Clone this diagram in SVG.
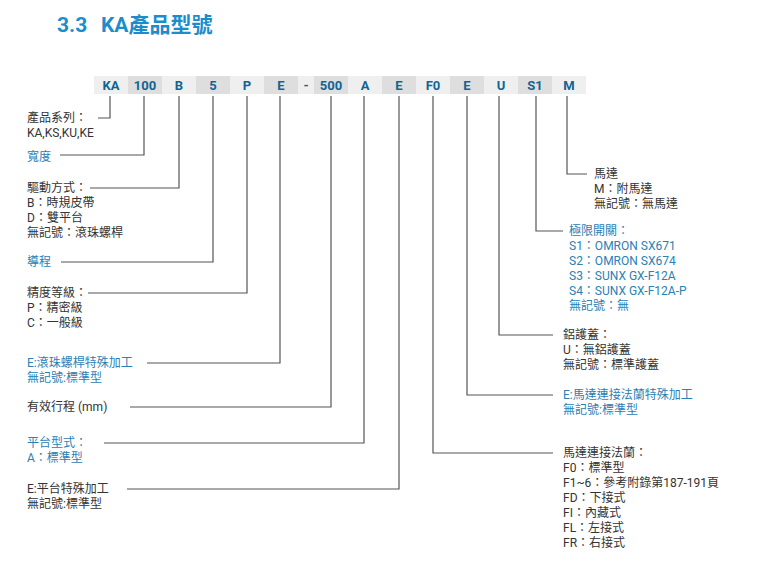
<svg xmlns="http://www.w3.org/2000/svg" width="760" height="565" viewBox="0 0 760 565">
<style>
.t{font-family:Roboto,"Noto Sans CJK TC","Noto Sans",sans-serif;font-size:12px;fill:#333}
.b{fill:#2b80b4}
.code{font-family:Roboto,"Liberation Sans",sans-serif;font-size:13px;font-weight:bold;fill:#0f6594;text-anchor:middle}
.lt{fill:#efefef}
.dk{fill:#dedede}
.ln{fill:none;stroke:#555;stroke-width:1.2}
</style>
<rect width="760" height="565" fill="#fff"/>
<text x="57" y="32" font-family="Roboto,'Noto Sans CJK TC',sans-serif" font-size="21" font-weight="bold" fill="#1b8ccc">3.3<tspan x="101">KA產品型號</tspan></text>

<g id="code">
<rect class="lt" x="94" y="76" width="34" height="18"/>
<rect class="dk" x="128" y="76" width="34" height="18"/>
<rect class="lt" x="162" y="76" width="34" height="18"/>
<rect class="dk" x="196" y="76" width="34" height="18"/>
<rect class="lt" x="230" y="76" width="34" height="18"/>
<rect class="dk" x="264" y="76" width="34" height="18"/>
<rect class="lt" x="298" y="76" width="16" height="18"/>
<rect class="dk" x="314" y="76" width="34" height="18"/>
<rect class="lt" x="348" y="76" width="34" height="18"/>
<rect class="dk" x="382" y="76" width="34" height="18"/>
<rect class="lt" x="416" y="76" width="34" height="18"/>
<rect class="dk" x="450" y="76" width="34" height="18"/>
<rect class="lt" x="484" y="76" width="34" height="18"/>
<rect class="dk" x="518" y="76" width="34" height="18"/>
<rect class="lt" x="552" y="76" width="34" height="18"/>
<text class="code" x="111" y="90">KA</text>
<text class="code" x="145" y="90">100</text>
<text class="code" x="179" y="90">B</text>
<text class="code" x="213" y="90">5</text>
<text class="code" x="247" y="90">P</text>
<text class="code" x="281" y="90">E</text>
<text class="code" x="306" y="90">-</text>
<text class="code" x="331" y="90">500</text>
<text class="code" x="365" y="90">A</text>
<text class="code" x="399" y="90">E</text>
<text class="code" x="433" y="90">F0</text>
<text class="code" x="467" y="90">E</text>
<text class="code" x="501" y="90">U</text>
<text class="code" x="535" y="90">S1</text>
<text class="code" x="569" y="90">M</text>
</g>

<g id="connectors">
<path class="ln" d="M110,96V118H98"/>
<path class="ln" d="M144,96V155H60"/>
<path class="ln" d="M179,96V188H90"/>
<path class="ln" d="M213,96V262H61"/>
<path class="ln" d="M247,96V293H88"/>
<path class="ln" d="M280,96V363H147"/>
<path class="ln" d="M331,96V407H130"/>
<path class="ln" d="M364,96V443H104"/>
<path class="ln" d="M399,96V489H127"/>
<path class="ln" d="M433,96V453H553"/>
<path class="ln" d="M467,96V395H553"/>
<path class="ln" d="M499,96V335H553"/>
<path class="ln" d="M536,96V231H563"/>
<path class="ln" d="M567,96V174H587"/>
</g>

<g id="series"><text class="t" x="27" y="122">產品系列：<tspan x="27" dy="15">KA,KS,KU,KE</tspan></text></g>
<g id="width"><text class="t b" x="27" y="161">寬度</text></g>
<g id="drive"><text class="t" x="27" y="192">驅動方式：<tspan x="27" dy="15">B：時規皮帶</tspan><tspan x="27" dy="15">D：雙平台</tspan><tspan x="27" dy="15">無記號：滾珠螺桿</tspan></text></g>
<g id="lead"><text class="t b" x="27" y="266">導程</text></g>
<g id="precision"><text class="t" x="27" y="297">精度等級：<tspan x="27" dy="15">P：精密級</tspan><tspan x="27" dy="15">C：一般級</tspan></text></g>
<g id="screw-special"><text class="t b" x="27" y="367">E:滾珠螺桿特殊加工<tspan x="27" dy="15">無記號:標準型</tspan></text></g>
<g id="stroke"><text class="t" x="27" y="411">有效行程 (mm)</text></g>
<g id="table-type"><text class="t b" x="27" y="447">平台型式：<tspan x="27" dy="15">A：標準型</tspan></text></g>
<g id="table-special"><text class="t" x="27" y="493">E:平台特殊加工<tspan x="27" dy="15">無記號:標準型</tspan></text></g>

<g id="motor"><text class="t" x="594" y="178">馬達<tspan x="594" dy="15">M：附馬達</tspan><tspan x="594" dy="15">無記號：無馬達</tspan></text></g>
<g id="limit"><text class="t b" x="569" y="235">極限開關：<tspan x="569" dy="15">S1：OMRON SX671</tspan><tspan x="569" dy="15">S2：OMRON SX674</tspan><tspan x="569" dy="15">S3：SUNX GX-F12A</tspan><tspan x="569" dy="15">S4：SUNX GX-F12A-P</tspan><tspan x="569" dy="15">無記號：無</tspan></text></g>
<g id="cover"><text class="t" x="563" y="339">鋁護蓋：<tspan x="563" dy="15">U：無鋁護蓋</tspan><tspan x="563" dy="15">無記號：標準護蓋</tspan></text></g>
<g id="flange-special"><text class="t b" x="563" y="399">E:馬達連接法蘭特殊加工<tspan x="563" dy="15">無記號:標準型</tspan></text></g>
<g id="flange"><text class="t" x="563" y="457">馬達連接法蘭：<tspan x="563" dy="15">F0：標準型</tspan><tspan x="563" dy="15">F1~6：參考附錄第187-191頁</tspan><tspan x="563" dy="15">FD：下接式</tspan><tspan x="563" dy="15">FI：內藏式</tspan><tspan x="563" dy="15">FL：左接式</tspan><tspan x="563" dy="15">FR：右接式</tspan></text></g>
</svg>
